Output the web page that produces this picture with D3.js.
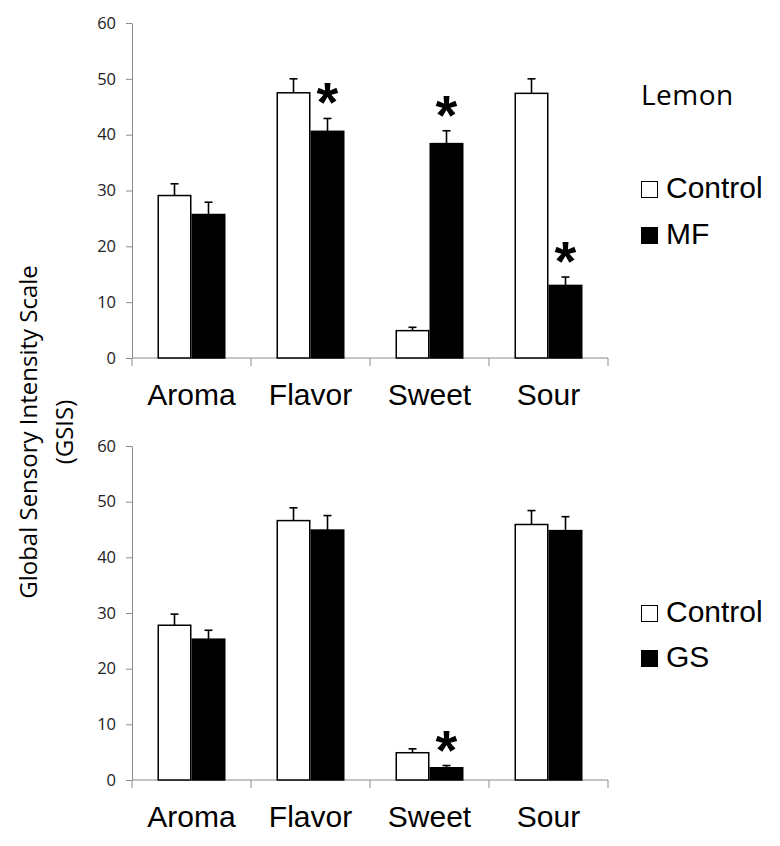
<!DOCTYPE html>
<html>
<head>
<meta charset="utf-8">
<script src="https://cdn.jsdelivr.net/npm/d3@7"></script>
<style>
  body { margin: 0; background: #fff; }
  svg { display: block; }
</style>
</head>
<body>
<svg id="chart" width="780" height="846"></svg>
<script>
// ---- data ----
const categories = ["Aroma", "Flavor", "Sweet", "Sour"];
const yTicks = [0, 10, 20, 30, 40, 50, 60];

const lemonControl    = [29.1, 47.5, 4.9, 47.4];
const lemonControlErr = [2.1, 2.5, 0.6, 2.6];
const lemonMF         = [25.7, 40.6, 38.4, 13.0];
const lemonMFErr      = [2.2, 2.3, 2.3, 1.5];
const lemonMFSig      = [false, true, true, true];

const gsControl    = [27.8, 46.6, 4.9, 45.9];
const gsControlErr = [2.0, 2.3, 0.7, 2.5];
const gsTreat      = [25.3, 44.9, 2.2, 44.8];
const gsTreatErr   = [1.6, 2.6, 0.4, 2.5];
const gsTreatSig   = [false, false, true, false];

const panels = [
  { title: "Lemon", series: ["Control", "MF"], control: lemonControl, controlErr: lemonControlErr,
    treat: lemonMF, treatErr: lemonMFErr, sig: lemonMFSig, y0: 358, y60: 23, labelY: 405,
    legendTitleY: 105, legendY: [198, 244] },
  { title: null, series: ["Control", "GS"], control: gsControl, controlErr: gsControlErr,
    treat: gsTreat, treatErr: gsTreatErr, sig: gsTreatSig, y0: 780, y60: 446, labelY: 827,
    legendTitleY: null, legendY: [622, 667] }
];

const svg = d3.select("#chart");
const x = d3.scaleBand().domain(categories).range([132, 608]).padding(0);
const inner = d3.scaleBand().domain(["c", "t"]).range([0, x.bandwidth()]).paddingInner(0).paddingOuter(0.75);

panels.forEach(p => {
  const y = d3.scaleLinear().domain([0, 60]).range([p.y0, p.y60]);
  const g = svg.append("g");

  // y axis
  const yAxis = d3.axisLeft(y).tickValues(yTicks).tickSize(6).tickSizeOuter(0).tickPadding(10);
  const ya = g.append("g").attr("transform", `translate(${x.range()[0]},0)`).call(yAxis);
  ya.select(".domain").attr("stroke", "#8c8c8c");
  ya.selectAll(".tick line").attr("stroke", "#8c8c8c");
  ya.selectAll(".tick text").attr("fill", "#222").style("font-family", "'Open Sans', sans-serif")
    .style("font-size", "16.5px");

  // x axis line and boundary ticks
  const bounds = categories.map(c => x(c)).concat([x.range()[1]]);
  g.append("line").attr("x1", x.range()[0]).attr("x2", x.range()[1])
    .attr("y1", y(0)).attr("y2", y(0)).attr("stroke", "#8c8c8c");
  g.selectAll(".xt").data(bounds).enter().append("line")
    .attr("x1", d => d).attr("x2", d => d).attr("y1", y(0)).attr("y2", y(0) + 8)
    .attr("stroke", "#8c8c8c");
  g.selectAll(".xl").data(categories).enter().append("text")
    .attr("x", d => x(d) + x.bandwidth() / 2).attr("y", p.labelY)
    .attr("text-anchor", "middle").style("font-family", "'Liberation Sans', Arial, sans-serif")
    .style("font-size", "30px").attr("fill", "#000").text(d => d);

  const rows = categories.map((c, i) => ({ c, i }));
  // bars
  [["c", p.control, p.controlErr, "#fff"], ["t", p.treat, p.treatErr, "#000"]].forEach(([k, vals, errs, fill]) => {
    const bx = d => x(d.c) + inner(k);
    g.selectAll(".eb" + k).data(rows).enter().append("line")
      .attr("x1", d => bx(d) + inner.bandwidth() / 2).attr("x2", d => bx(d) + inner.bandwidth() / 2)
      .attr("y1", d => y(vals[d.i])).attr("y2", d => y(vals[d.i] + errs[d.i]))
      .attr("stroke", "#000").attr("stroke-width", 1.6);
    g.selectAll(".ec" + k).data(rows).enter().append("line")
      .attr("x1", d => bx(d) + inner.bandwidth() / 2 - 4).attr("x2", d => bx(d) + inner.bandwidth() / 2 + 4)
      .attr("y1", d => y(vals[d.i] + errs[d.i])).attr("y2", d => y(vals[d.i] + errs[d.i]))
      .attr("stroke", "#000").attr("stroke-width", 1.6);
    g.selectAll(".b" + k).data(rows).enter().append("rect")
      .attr("x", d => bx(d) + 0.75).attr("width", inner.bandwidth() - 1.5)
      .attr("y", d => y(vals[d.i])).attr("height", d => y(0) - y(vals[d.i]))
      .attr("fill", fill).attr("stroke", "#000").attr("stroke-width", 1.5);
  });

  // significance asterisks
  g.selectAll(".sig").data(rows.filter(d => p.sig[d.i])).enter().append("text")
    .attr("x", d => x(d.c) + inner("t") + inner.bandwidth() / 2)
    .attr("y", d => y(p.treat[d.i] + p.treatErr[d.i]) + 3)
    .attr("text-anchor", "middle")
    .style("font-family", "'Liberation Sans', Arial, sans-serif").style("font-weight", "bold")
    .style("font-size", "56px").text("*");

  // legend
  if (p.title) {
    g.append("text").attr("x", 641).attr("y", p.legendTitleY)
      .style("font-family", "'Open Sans', sans-serif").style("font-size", "28px")
      .style("letter-spacing", "0.5px").attr("fill", "#000").text(p.title);
  }
  p.series.forEach((s, i) => {
    g.append("rect").attr("x", 641.5).attr("y", p.legendY[i] - 16.5).attr("width", 16).attr("height", 16)
      .attr("fill", i === 0 ? "#fff" : "#000").attr("stroke", "#000").attr("stroke-width", 1);
    g.append("text").attr("x", 666).attr("y", p.legendY[i])
      .style("font-family", "'Liberation Sans', Arial, sans-serif").style("font-size", "30px")
      .attr("fill", "#000").text(s);
  });
});

// y axis title
const title = svg.append("g").style("font-family", "'Open Sans', sans-serif").style("font-size", "24px").attr("fill", "#000");
title.append("text").attr("transform", "translate(37,432) rotate(-90)").attr("text-anchor", "middle")
  .text("Global Sensory Intensity Scale");
title.append("text").attr("transform", "translate(73,432) rotate(-90)").attr("text-anchor", "middle")
  .text("(GSIS)");
</script>
</body>
</html>
